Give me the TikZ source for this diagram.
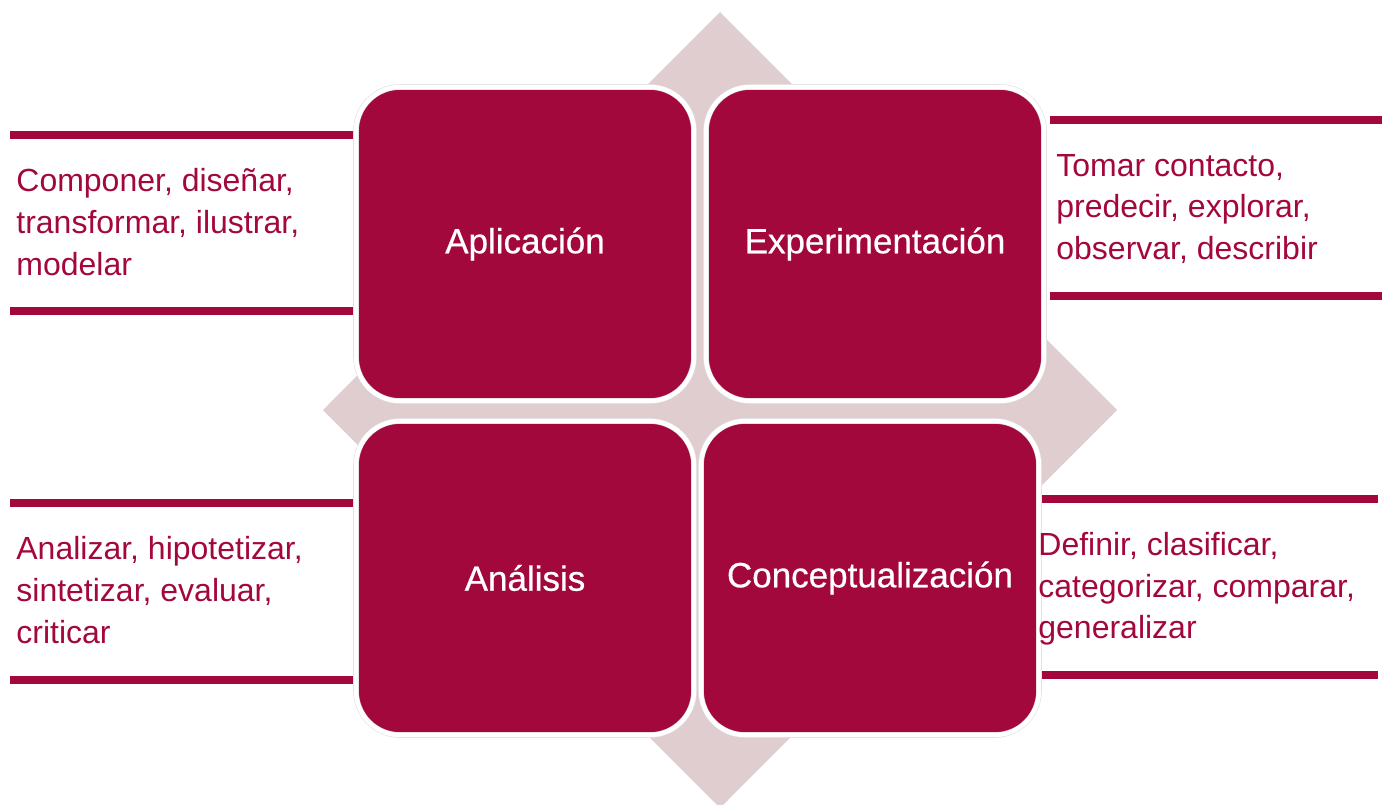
\documentclass[tikz,border=0pt]{standalone}
\usepackage{fontspec}
\setmainfont{Liberation Sans}
\newfontfamily\cajafont{Liberation Sans}[BoldFont=Liberation Sans, BoldFeatures={FakeBold=0.6}]
\definecolor{vino}{HTML}{A3083D}
\definecolor{rosa}{HTML}{DFCDCF}
\begin{document}
\begin{tikzpicture}[x=0.5pt,y=-0.5pt,
  caja/.style={rounded corners=22pt, fill=vino, draw=black!12, double=white, double distance=2.2pt, line width=0.3pt, minimum width=169pt, minimum height=157pt, text=white, font=\cajafont\bfseries\fontsize{17.5}{21}\selectfont},
  texto/.style={anchor=west, align=left, inner sep=0pt, text=vino, font=\fontsize{16}{20.8}\selectfont},
  raya/.style={vino, line width=4pt}]
\useasboundingbox (0,0) rectangle (1382,804);
\fill[rosa] (720,12) -- (1117,410) -- (720,808) -- (323,410) -- cycle;
\draw[raya] (10,135) -- (355,135);
\draw[raya] (10,311) -- (355,311);
\draw[raya] (1050,120) -- (1382,120);
\draw[raya] (1050,296) -- (1382,296);
\draw[raya] (10,503) -- (355,503);
\draw[raya] (10,680) -- (355,680);
\draw[raya] (1036,499) -- (1378,499);
\draw[raya] (1036,675) -- (1378,675);
\node[caja] (apl) at (525,244) {Aplicación};
\node[caja] (exp) at (875,244) {Experimentación};
\node[caja] (ana) at (525,578) {Análisis};
\node[caja] (con) at (870,578) {Conceptualización};
\node[texto] (tapl) at (16,222) {Componer, diseñar,\\transformar, ilustrar,\\modelar};
\node[texto] (texp) at (1056,209) {Tomar contacto,\\predecir, explorar,\\observar, describir};
\node[texto] (tana) at (16,590) {Analizar, hipotetizar,\\sintetizar, evaluar,\\criticar};
\node[texto] (tcon) at (1038,589) {Definir, clasificar,\\categorizar, comparar,\\generalizar};
\end{tikzpicture}
\end{document}
